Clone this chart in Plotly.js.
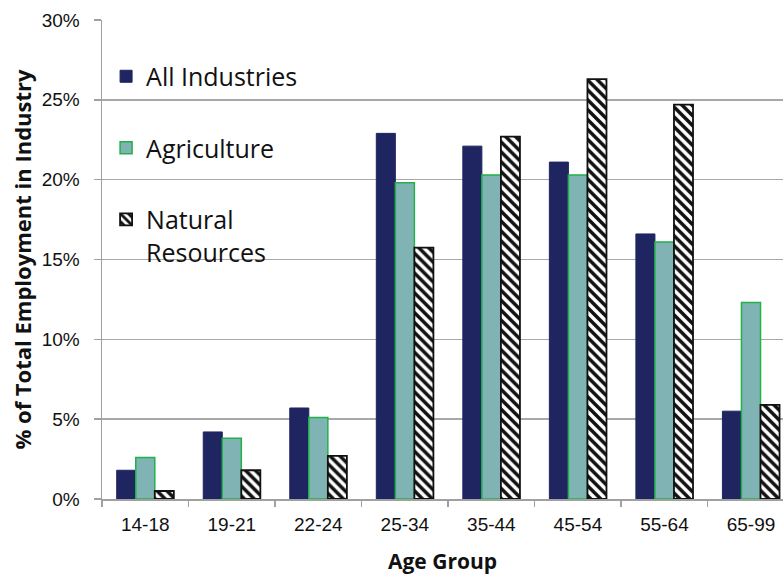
<!DOCTYPE html>
<html>
<head>
<meta charset="utf-8">
<script src="https://cdn.plot.ly/plotly-3.0.1.min.js"></script>
<style>html,body{margin:0;padding:0;background:#fff;}#chart{width:783px;height:575px;}</style>
</head>
<body>
<div id="chart"></div>
<script>
var ageGroups = ["14-18", "19-21", "22-24", "25-34", "35-44", "45-54", "55-64", "65-99"];
var allIndustries = [1.8, 4.2, 5.7, 22.9, 22.1, 21.1, 16.6, 5.5];
var agriculture = [2.6, 3.8, 5.1, 19.8, 20.3, 20.3, 16.1, 12.3];
var naturalResources = [0.5, 1.8, 2.7, 15.75, 22.7, 26.3, 24.7, 5.9];
var yTicks = [0, 5, 10, 15, 20, 25, 30];
var yTickLabels = ["0%", "5%", "10%", "15%", "20%", "25%", "30%"];

var traces = [
  {
    type: "bar", name: "All Industries", x: ageGroups, y: allIndustries,
    legendgroup: "a",
    marker: {color: "#1f2560", line: {color: "#1f2560", width: 1}}
  },
  {
    type: "bar", name: "Agriculture", x: ageGroups, y: agriculture,
    legendgroup: "b",
    marker: {color: "#80b4b4", line: {color: "#22b04a", width: 1.5}}
  },
  {
    type: "bar", name: "Natural<br>Resources", x: ageGroups, y: naturalResources,
    legendgroup: "c",
    marker: {color: "#ffffff", line: {color: "#111111", width: 1.8},
      pattern: {shape: "\\", fgcolor: "#111111", bgcolor: "#ffffff", size: 7, solidity: 0.5}}
  }
];

var layout = {
  width: 783, height: 575,
  margin: {l: 102, r: 0, t: 20, b: 76},
  paper_bgcolor: "#ffffff", plot_bgcolor: "#ffffff",
  barmode: "group", bargap: 0.34, bargroupgap: 0,
  showlegend: true,
  legend: {
    x: 0.006, xanchor: "left", y: 0.93, yanchor: "top",
    font: {family: "Open Sans", size: 25, color: "#111111"},
    traceorder: "grouped", tracegroupgap: 36, valign: "top",
    bgcolor: "rgba(0,0,0,0)"
  },
  xaxis: {
    type: "category", range: [-0.5, 7.37],
    showline: true, linecolor: "#a0a0a0", linewidth: 1.5,
    ticks: "outside", tickson: "boundaries", ticklen: 6, tickcolor: "#a0a0a0", tickwidth: 1.5,
    showgrid: false, ticklabelstandoff: 8,
    tickfont: {family: "Liberation Sans", size: 19, color: "#111111"},
    title: {text: "Age Group", standoff: 22,
      font: {family: "Open Sans", size: 21, color: "#111111", weight: "bold"}}
  },
  yaxis: {
    range: [0, 30], tickmode: "array", tickvals: yTicks, ticktext: yTickLabels,
    showline: true, linecolor: "#a0a0a0", linewidth: 1.5,
    ticks: "outside", ticklen: 7, tickcolor: "#a0a0a0", tickwidth: 1.5,
    showgrid: true, gridcolor: "#a8a8a8", gridwidth: 1.5, zeroline: false,
    ticklabelstandoff: 10,
    tickfont: {family: "Liberation Sans", size: 19, color: "#111111"},
    title: {text: "% of Total Employment in Industry", standoff: 4,
      font: {family: "Open Sans", size: 22, color: "#111111", weight: "bold"}}
  }
};

Plotly.newPlot("chart", traces, layout, {displayModeBar: false, staticPlot: true});
</script>
</body>
</html>
